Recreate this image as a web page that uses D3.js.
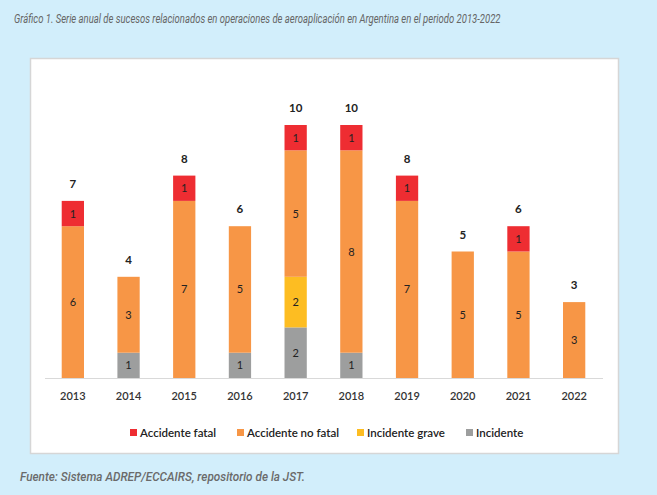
<!DOCTYPE html>
<html><head><meta charset="utf-8">
<script src="https://cdn.jsdelivr.net/npm/d3@7"></script>
<style>html,body{margin:0;padding:0;background:#d2eefb;}svg{display:block;}</style>
</head><body>
<script>
const years = ["2013","2014","2015","2016","2017","2018","2019","2020","2021","2022"];
const seriesNames = ["Incidente","Incidente grave","Accidente no fatal","Accidente fatal"];
const incidente       = [0,1,0,1,2,1,0,0,0,0];
const incidenteGrave  = [0,0,0,0,2,0,0,0,0,0];
const accNoFatal      = [6,3,7,5,5,8,7,5,5,3];
const accFatal        = [1,0,1,0,1,1,1,0,1,0];
const colors = {"Accidente fatal":"#ee2d32","Accidente no fatal":"#f79646","Incidente grave":"#fdbd22","Incidente":"#9d9e9e"};
const legendOrder = ["Accidente fatal","Accidente no fatal","Incidente grave","Incidente"];

const W=657,H=495;
const svg=d3.select("body").append("svg").attr("width",W).attr("height",H);
svg.append("rect").attr("width",W).attr("height",H).attr("fill","#d2eefb");
const title=svg.append("text").attr("font-family","Roboto").attr("font-style","italic")
 .attr("font-size",13).attr("fill","#666")
 .text("Gráfico 1. Serie anual de sucesos relacionados en operaciones de aeroaplicación en Argentina en el periodo 2013-2022");
const tl=title.node().getComputedTextLength();
title.attr("transform",`translate(14,23) scale(${487/tl},1)`);
// panel
svg.append("rect").attr("x",30.5).attr("y",58.5).attr("width",588).attr("height",395).attr("fill","#fff").attr("stroke","#d6d6d6").attr("stroke-width",1.5);
const foot=svg.append("text").attr("font-family","Roboto").attr("font-style","italic").attr("font-weight",500)
 .attr("font-size",12).attr("fill","#6a6a6a")
 .text("Fuente: Sistema ADREP/ECCAIRS, repositorio de la JST.");
const fl=foot.node().getComputedTextLength();
foot.attr("transform",`translate(20,481) scale(${285/fl},1)`);

const data=years.map((y,i)=>({year:y,"Incidente":incidente[i],"Incidente grave":incidenteGrave[i],"Accidente no fatal":accNoFatal[i],"Accidente fatal":accFatal[i]}));
const x=d3.scaleBand().domain(years).range([45,602]).paddingInner(0.6).paddingOuter(0.3);
const y=d3.scaleLinear().domain([0,10]).range([378,125]);
const stack=d3.stack().keys(seriesNames)(data);
const font="Lato, 'Open Sans', sans-serif";

const g=svg.append("g");
stack.forEach(s=>{
  const key=s.key;
  s.forEach(d=>{
    const v=d[1]-d[0]; if(!v) return;
    g.append("rect").attr("x",x(d.data.year)).attr("width",x.bandwidth())
     .attr("y",y(d[1])).attr("height",y(d[0])-y(d[1])).attr("fill",colors[key]);
    g.append("text").attr("x",x(d.data.year)+x.bandwidth()/2).attr("y",(y(d[0])+y(d[1]))/2+4)
     .attr("text-anchor","middle").attr("font-family",font).attr("font-size",11).attr("fill","#222").text(v);
  });
});
// axis
const ax=svg.append("g").attr("transform","translate(0,378)").call(d3.axisBottom(x).tickSize(0).tickPadding(0));
ax.select(".domain").attr("stroke","#d9d9d9").attr("d","M45,0.5H603");
ax.selectAll("text").attr("y",22).attr("dy",0).attr("font-family",font).attr("font-size",11).attr("font-weight",600).attr("fill","#333");
// totals
data.forEach((d,i)=>{
  const t=incidente[i]+incidenteGrave[i]+accNoFatal[i]+accFatal[i];
  svg.append("text").attr("x",x(d.year)+x.bandwidth()/2).attr("y",y(t)-13).attr("text-anchor","middle")
   .attr("font-family",font).attr("font-size",11.5).attr("font-weight",700).attr("fill","#222").text(t);
});
// legend
const lx=[130,237,357,466];
legendOrder.forEach((k,i)=>{
  svg.append("rect").attr("x",lx[i]).attr("y",429).attr("width",7).attr("height",7).attr("fill",colors[k]);
  svg.append("text").attr("x",lx[i]+10).attr("y",437).attr("font-family",font).attr("font-size",11.5).attr("font-weight",600).attr("fill","#222").text(k);
});
</script>
</body></html>
